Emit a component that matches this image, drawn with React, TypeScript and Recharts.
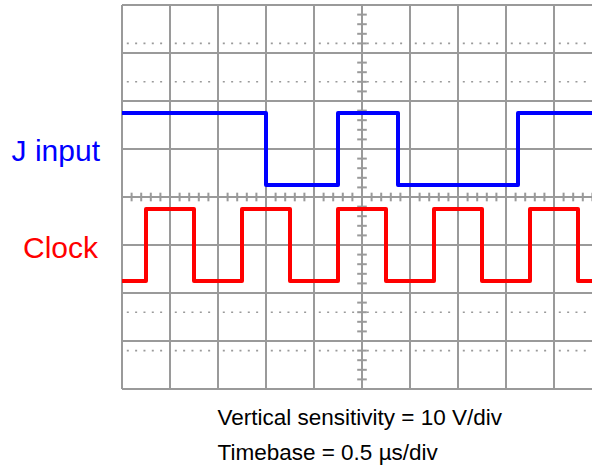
import React from "react";
import { LineChart, Line, XAxis, YAxis, ReferenceLine } from "recharts";

// Grid divisions (time in divisions, voltage in divisions)
const gridX = [0, 1, 2, 3, 4, 5, 6, 7, 8, 9, 10];
const gridY = [-4, -3, -2, -1, 0, 1, 2, 3, 4];
const minorX = [0.2, 0.4, 0.6, 0.8, 1.2, 1.4, 1.6, 1.8, 2.2, 2.4, 2.6, 2.8, 3.2, 3.4, 3.6, 3.8, 4.2, 4.4, 4.6, 4.8, 5.2, 5.4, 5.6, 5.8, 6.2, 6.4, 6.6, 6.8, 7.2, 7.4, 7.6, 7.8, 8.2, 8.4, 8.6, 8.8, 9.2, 9.4, 9.6, 9.8];
const minorY = [-3.8, -3.6, -3.4, -3.2, -2.8, -2.6, -2.4, -2.2, -1.8, -1.6, -1.4, -1.2, -0.8, -0.6, -0.4, -0.2, 0.2, 0.4, 0.6, 0.8, 1.2, 1.4, 1.6, 1.8, 2.2, 2.4, 2.6, 2.8, 3.2, 3.4, 3.6, 3.8];
const dottedY = [3.2, 2.4, -2.4, -3.2];

// J input waveform (stepAfter)
const jTimes = [0, 3, 4.5, 5.75, 8.25, 10];
const jLevels = [1.75, 0.25, 1.75, 0.25, 1.75, 1.75];

// Clock waveform (stepAfter)
const clkTimes = [0, 0.5, 1.5, 2.5, 3.5, 4.5, 5.5, 6.5, 7.5, 8.5, 9.5, 10];
const clkLevels = [-1.75, -0.25, -1.75, -0.25, -1.75, -0.25, -1.75, -0.25, -1.75, -0.25, -1.75, -1.75];

const labels = ["J input", "Clock"];
const captions = ["Vertical sensitivity = 10 V/div", "Timebase = 0.5 \u00b5s/div"];

const jData = jTimes.map((t, i) => ({ t, v: jLevels[i] }));
const clkData = clkTimes.map((t, i) => ({ t, v: clkLevels[i] }));

const GRID = "#9a9a9a";
const FONT = "'Liberation Sans', Arial, sans-serif";

export default function App() {
  return (
    <div style={{ position: "absolute", left: 0, top: 0, width: 592, height: 468, overflow: "hidden", background: "#fff" }}>
      <LineChart width={610} height={468} margin={{ top: 5, right: 8, bottom: 79, left: 122 }}>
        <XAxis type="number" dataKey="t" domain={[0, 10]} hide allowDataOverflow />
        <YAxis type="number" dataKey="v" domain={[-4, 4]} hide allowDataOverflow />
        {dottedY.map((y) =>
          gridX.slice(0, 10).map((x) => (
            <ReferenceLine
              key={`d${y}-${x}`}
              segment={[{ x: x + 0.1, y }, { x: x + 0.86, y }]}
              stroke={GRID}
              strokeWidth={1.6}
              strokeDasharray="2 6.33"
              ifOverflow="visible"
            />
          ))
        )}
        {gridX.map((x) => (
          <ReferenceLine key={`gx${x}`} x={x} stroke={GRID} strokeWidth={2} ifOverflow="visible" />
        ))}
        {gridY.map((y) => (
          <ReferenceLine key={`gy${y}`} y={y} stroke={GRID} strokeWidth={2} ifOverflow="visible" />
        ))}
        {minorX.map((x) => (
          <ReferenceLine key={`mx${x}`} segment={[{ x, y: -0.09 }, { x, y: 0.09 }]} stroke={GRID} strokeWidth={2} ifOverflow="visible" />
        ))}
        {minorY.map((y) => (
          <ReferenceLine key={`my${y}`} segment={[{ x: 4.9, y }, { x: 5.1, y }]} stroke={GRID} strokeWidth={2} ifOverflow="visible" />
        ))}
        <Line data={jData} dataKey="v" type="stepAfter" stroke="#0000ff" strokeWidth={4} strokeLinejoin="round" dot={false} isAnimationActive={false} />
        <Line data={clkData} dataKey="v" type="stepAfter" stroke="#ff0000" strokeWidth={4} strokeLinejoin="round" dot={false} isAnimationActive={false} />
      </LineChart>
      <svg width={592} height={468} style={{ position: "absolute", left: 0, top: 0, pointerEvents: "none" }}>
        <text x={100} y={160.5} textAnchor="end" fontFamily={FONT} fontSize={30} fill="#0000ff">{labels[0]}</text>
        <text x={98} y={257.5} textAnchor="end" fontFamily={FONT} fontSize={30} fill="#ff0000">{labels[1]}</text>
        <text x={217.5} y={425} fontFamily={FONT} fontSize={22.5} fill="#000">{captions[0]}</text>
        <text x={217.5} y={460} fontFamily={FONT} fontSize={22.5} fill="#000">{captions[1]}</text>
      </svg>
    </div>
  );
}
